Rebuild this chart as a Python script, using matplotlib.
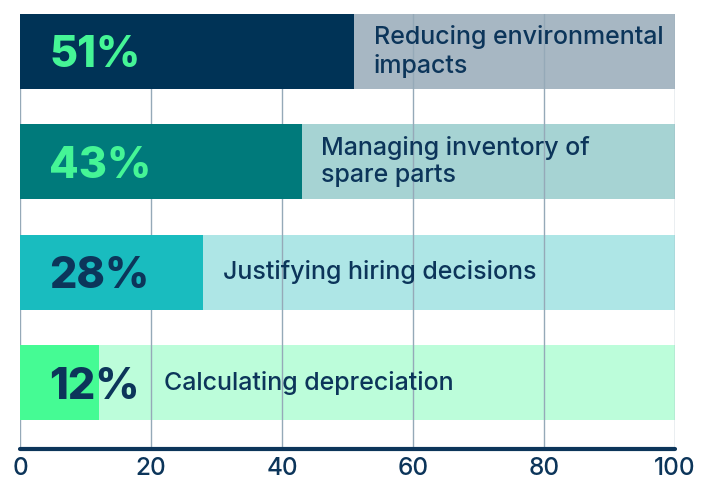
import matplotlib.pyplot as plt

# data
labels = ['Reducing environmental\nimpacts', 'Managing inventory of\nspare parts',
          'Justifying hiring decisions', 'Calculating depreciation']
values = [51, 43, 28, 12]
bar_colors = ['#003356', '#007a7b', '#19bcbf', '#45fb94']
bg_colors = ['#a7b7c3', '#a6d3d3', '#aee6e6', '#bcfdda']
pct_colors = ['#45f596', '#45f596', '#0c355a', '#0c355a']

navy = '#0c355a'
plt.rcParams['font.family'] = ['Inter', 'DejaVu Sans']

fig = plt.figure(figsize=(7.2, 4.83), dpi=100)
ax = fig.add_axes([20 / 720, 1 - 449 / 483, 655 / 720, 435 / 483])

ypos = list(range(len(values)))
h = 0.68
ax.barh(ypos, [100] * len(values), height=h, color=bg_colors, zorder=1)
ax.barh(ypos, values, height=h, color=bar_colors, zorder=3)

for x in [0, 20, 40, 60, 80, 100]:
    ax.axvline(x, color='#95a9b8', lw=1, zorder=2)

for y, v, lab, pc in zip(ypos, values, labels, pct_colors):
    ax.text(4.5, y + 0.04, f'{v}%', color=pc, fontsize=31, fontweight='heavy',
            va='center', ha='left', zorder=4)
    ax.text(max(v + 3, 22), y, lab, color=navy, fontsize=18, fontweight='medium',
            va='center', ha='left', zorder=4, linespacing=1.22)

ax.set_xlim(0, 100)
ax.set_ylim(3.6, -h / 2)
ax.set_xticks([0, 20, 40, 60, 80, 100])
ax.set_yticks([])
for s in ['top', 'right', 'left']:
    ax.spines[s].set_visible(False)
ax.spines['bottom'].set_color(navy)
ax.spines['bottom'].set_linewidth(3)
ax.spines['bottom'].set_capstyle('round')
ax.tick_params(axis='x', length=0, pad=6, labelsize=17.5, labelcolor=navy)
for t in ax.get_xticklabels():
    t.set_fontweight('medium')

fig.savefig('out.png', dpi=100)
